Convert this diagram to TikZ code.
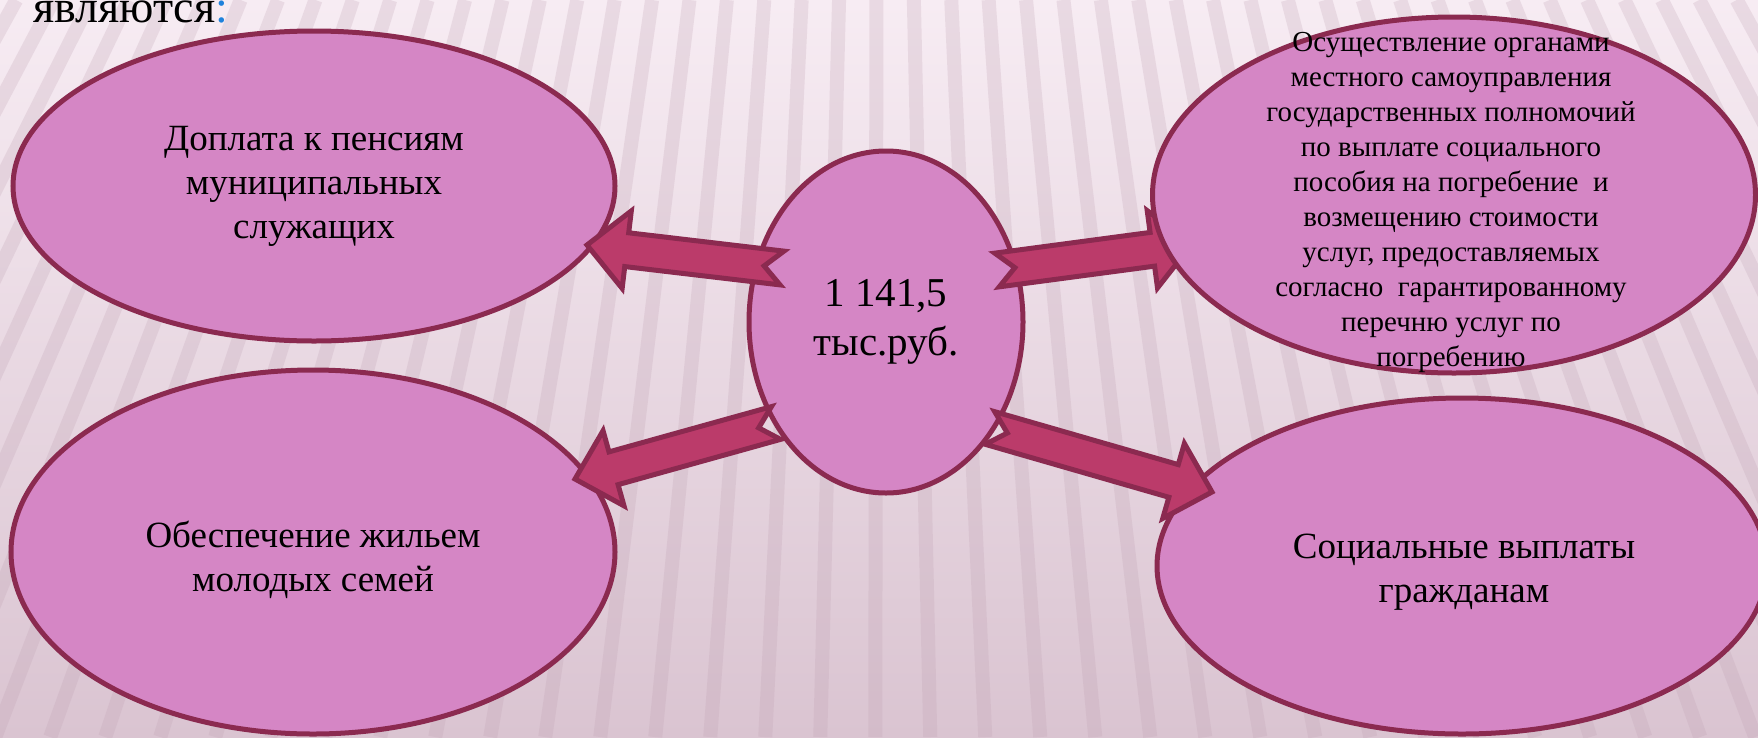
\documentclass[tikz,border=0pt]{standalone}
\usepackage{fontspec}
\setmainfont{Liberation Serif}
\usepackage{tikz}
\usetikzlibrary{shapes.geometric,calc}
\definecolor{ellfill}  {RGB}{213,134,197}
\definecolor{ellline}  {RGB}{139,42,80}
\definecolor{arrfill}  {RGB}{187,59,106}
\definecolor{bgtop}    {RGB}{247,236,243}
\definecolor{bgbot}    {RGB}{218,196,209}
\definecolor{stripecol}{RGB}{190,160,177}
\definecolor{colonblue}{RGB}{30,130,220}

\begin{document}
\begin{tikzpicture}[x=1pt, y=-1pt,
          oval/.style={ellipse,draw=ellline,line width=5pt,fill=ellfill,inner sep=0pt,
                       align=center,font=\fontsize{37}{44}\selectfont},
          bigarrow/.style={draw=ellline,line width=5pt,fill=arrfill,line join=miter},
          stripeline/.style={stripecol,line width=14pt,opacity=0.24}
      ]
        \useasboundingbox (0,0) rectangle (1758,737);
        % background
        \shade[top color=bgtop, bottom color=bgbot] (0,0) rectangle (1758,737);
        \foreach \s in {-400,-356,...,2200}
          \draw[stripeline] ({879+(\s-879)*0.85},0) -- ({879+(\s-879)*1.25},737);
        \node[anchor=base west,inner sep=0pt,font=\fontsize{46}{46}\selectfont] (intro) at (33,22)
             {являются\textcolor{colonblue}{:}};
        % ellipses
        \node[oval,minimum width=602pt,minimum height=310pt] (pens) at (314,186)
             {Доплата к пенсиям\\муниципальных\\служащих};
        \node[oval,minimum width=604pt,minimum height=364pt] (hous) at (313,552) {};
        \node[align=center,font=\fontsize{37}{44}\selectfont] (houstxt) at (313,560)
             {Обеспечение жильем\\молодых семей};
        \node[oval,minimum width=610pt,minimum height=336pt] (soc)  at (1462,566) {};
        \node[align=center,font=\fontsize{37}{44}\selectfont] (soctxt) at (1464,572)
             {Социальные выплаты\\гражданам};
        \node[oval,minimum width=274pt,minimum height=342pt,font=\fontsize{41}{49}\selectfont] (sum) at (886,322)
             {1 141,5\\тыс.руб.};
        % arrows
        \coordinate (tlA) at (782,268);  \coordinate (tlB) at (587,245);
        \coordinate (trA) at (997,270);  \coordinate (trB) at (1192,244);
        \coordinate (blA) at (776,423);  \coordinate (blB) at (575,479);
        \coordinate (brA) at (990,428);  \coordinate (brB) at (1212,492);
        \foreach \a/\b in {tlA/tlB, trA/trB, blA/blB, brA/brB} {
          \coordinate (h) at ($(\b)!40pt!(\a)$);
          \draw[bigarrow] ($(\a)!17pt!90:(\b)$) -- ($(h)!17pt!90:(\b)$) -- ($(h)!39pt!90:(\b)$)
            -- (\b) -- ($(h)!39pt!-90:(\b)$) -- ($(h)!17pt!-90:(\b)$) -- ($(\a)!17pt!-90:(\b)$)
            -- ($(\a)!18pt!(\b)$) -- cycle;
        }
        \node[oval,minimum width=603pt,minimum height=356pt] (burial) at (1454,195) {};
        \node[align=center,font=\fontsize{29}{35}\selectfont] (burialtxt) at (1451,202)
             {Осуществление органами\\местного самоуправления\\государственных полномочий\\
              по выплате социального\\пособия на погребение~ и\\возмещению стоимости\\
              услуг, предоставляемых\\согласно~ гарантированному\\перечню услуг по\\погребению};
      \end{tikzpicture}
\end{document}
